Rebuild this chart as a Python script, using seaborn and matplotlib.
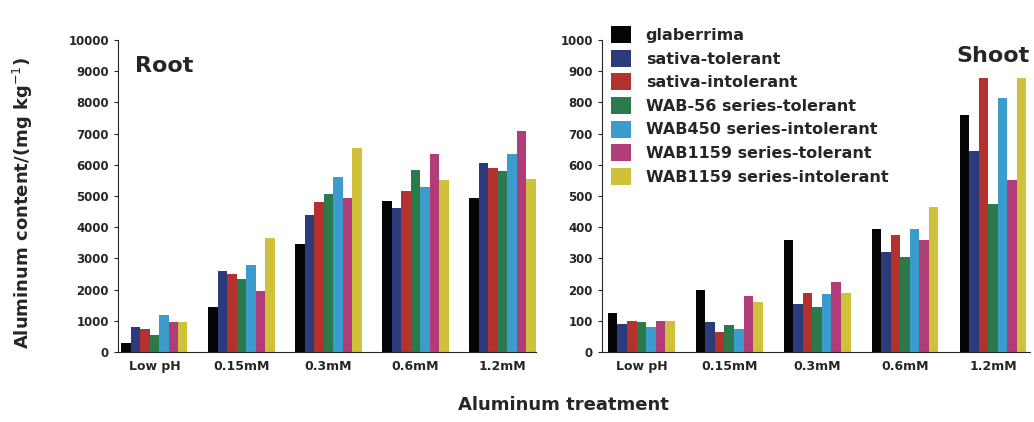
import numpy as np
import matplotlib
matplotlib.use("Agg")
import matplotlib.pyplot as plt
import seaborn as sns
import pandas as pd

treatments = ["Low pH", "0.15mM", "0.3mM", "0.6mM", "1.2mM"]
groups = ["glaberrima", "sativa-tolerant", "sativa-intolerant",
          "WAB-56 series-tolerant", "WAB450 series-intolerant",
          "WAB1159 series-tolerant", "WAB1159 series-intolerant"]
colors = ["#050505", "#2c3b7c", "#b3322e", "#2a7a4c", "#3c9ccc", "#b03c78", "#cfc23a"]

# root content, one list per group (values per treatment)
root_glab = [280, 1450, 3450, 4850, 4950]
root_sat_tol = [800, 2600, 4400, 4600, 6050]
root_sat_int = [750, 2500, 4800, 5150, 5900]
root_wab56_tol = [550, 2350, 5050, 5850, 5800]
root_wab450_int = [1200, 2800, 5600, 5300, 6350]
root_wab1159_tol = [950, 1950, 4950, 6350, 7100]
root_wab1159_int = [950, 3650, 6550, 5500, 5550]

# shoot content
shoot_glab = [125, 200, 360, 395, 760]
shoot_sat_tol = [90, 95, 155, 320, 645]
shoot_sat_int = [100, 65, 190, 375, 880]
shoot_wab56_tol = [95, 85, 145, 305, 475]
shoot_wab450_int = [80, 75, 185, 395, 815]
shoot_wab1159_tol = [100, 180, 225, 360, 550]
shoot_wab1159_int = [100, 160, 190, 465, 880]

root_vals = [root_glab, root_sat_tol, root_sat_int, root_wab56_tol,
             root_wab450_int, root_wab1159_tol, root_wab1159_int]
shoot_vals = [shoot_glab, shoot_sat_tol, shoot_sat_int, shoot_wab56_tol,
              shoot_wab450_int, shoot_wab1159_tol, shoot_wab1159_int]


def make_df(vals):
    rows = []
    for g, v in zip(groups, vals):
        for t, x in zip(treatments, v):
            rows.append({"treatment": t, "group": g, "value": x})
    return pd.DataFrame(rows)


root = make_df(root_vals)
shoot = make_df(shoot_vals)

sns.set_style("ticks")
plt.rcParams['font.family'] = ['DejaVu Sans']

fig = plt.figure(figsize=(10.34, 4.22), dpi=100)
ax1 = fig.add_axes([0.114, 0.166, 0.404, 0.739])
ax2 = fig.add_axes([0.582, 0.166, 0.414, 0.739])

for ax, df, ymax, step in [(ax1, root, 10000, 1000), (ax2, shoot, 1000, 100)]:
    sns.barplot(data=df, x="treatment", y="value", hue="group", hue_order=groups,
                order=treatments, palette=colors, width=0.76, gap=0,
                saturation=1, linewidth=0, ax=ax, legend=(ax is ax2))
    ax.set_ylim(0, ymax)
    ax.set_yticks(np.arange(0, ymax + 1, step))
    ax.set_xlabel("")
    ax.set_ylabel("")
    sns.despine(ax=ax)
    ax.tick_params(axis="y", labelsize=8.5, length=3)
    ax.tick_params(axis="x", labelsize=9, length=0, pad=6)
    for lab in ax.get_yticklabels() + ax.get_xticklabels():
        lab.set_fontweight("bold")

ax1.set_xlim(-0.42, 4.38)
ax2.set_xlim(-0.45, 4.42)

ax1.text(0.04, 0.95, "Root", transform=ax1.transAxes, fontsize=16,
         fontweight="bold", va="top", ha="left")
ax2.text(1.0, 0.98, "Shoot", transform=ax2.transAxes, fontsize=16,
         fontweight="bold", va="top", ha="right")

leg = ax2.legend(loc="upper left", bbox_to_anchor=(0.0, 1.075), frameon=False,
                 fontsize=11.5, handlelength=1.25, handleheight=1.25,
                 labelspacing=0.42, handletextpad=0.9, borderaxespad=0.2)
for t in leg.get_texts():
    t.set_fontweight("bold")

fig.text(0.022, 0.52, "Aluminum content/(mg kg$^{-1}$)", rotation=90,
         fontsize=13, fontweight="bold", va="center", ha="center")
fig.text(0.545, 0.04, "Aluminum treatment", fontsize=13, fontweight="bold",
         ha="center", va="center")

fig.savefig("out.png", dpi=100)
